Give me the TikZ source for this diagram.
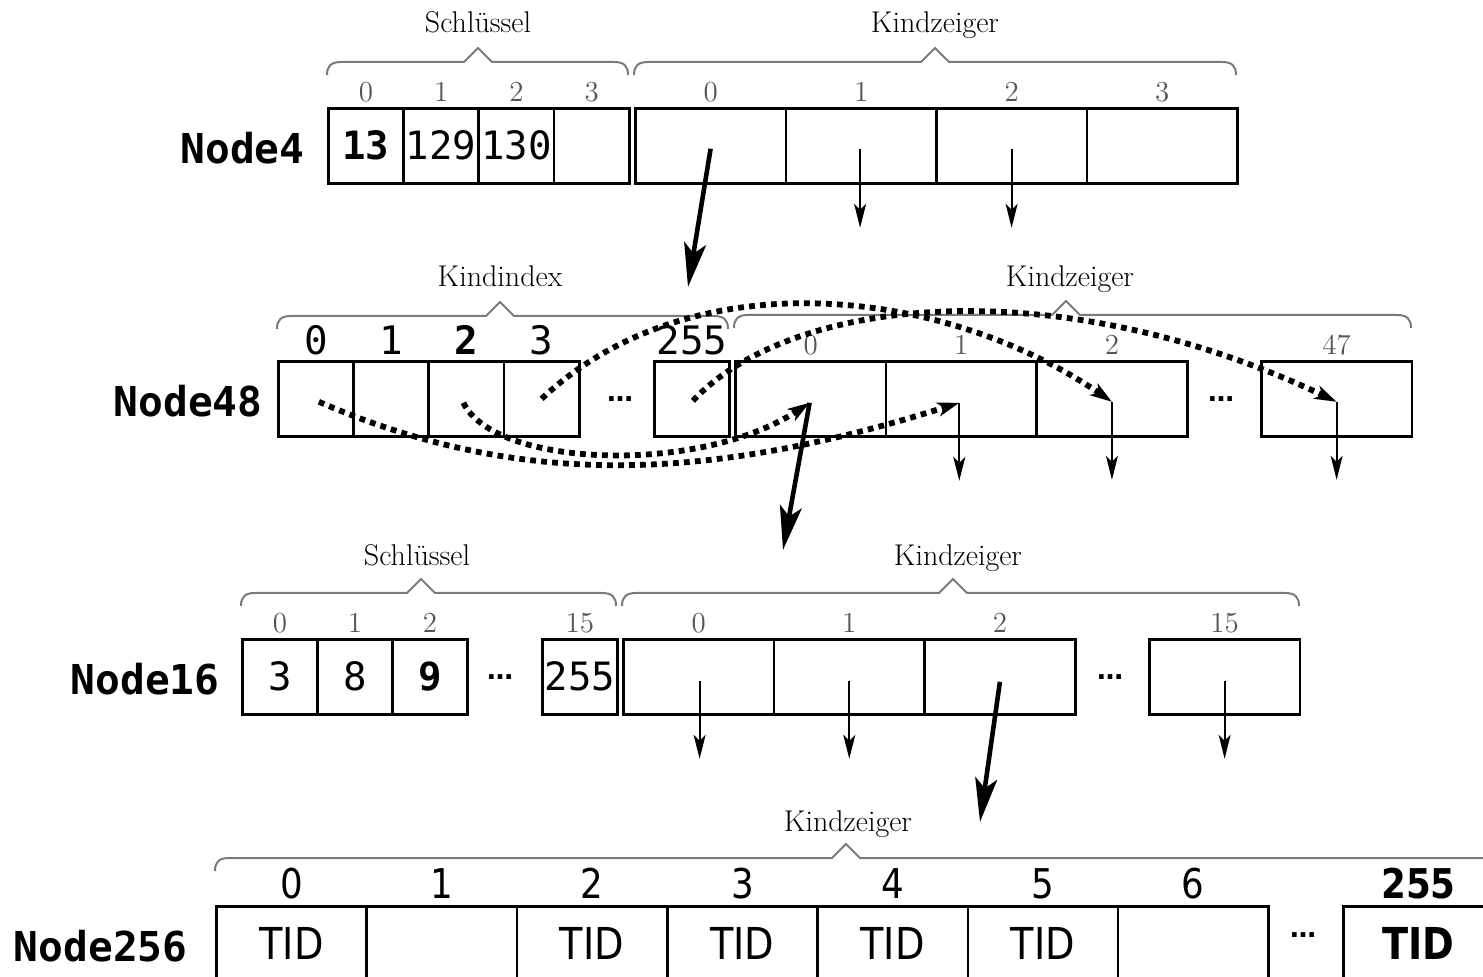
\documentclass[tikz,border=0pt]{standalone}
\usepackage{fontspec}
\newfontfamily\monof{DejaVu Sans Mono}
\newfontfamily\condf[FakeStretch=0.87]{DejaVu Sans}
\newfontfamily\dejaf{DejaVu Sans}
\usetikzlibrary{arrows.meta}
\definecolor{bracegray}{HTML}{7A7A7A}
\definecolor{idxgray}{HTML}{555555}
\newcommand\mybrace[4]{%
  \draw[gbrace] (#1,#4+13) .. controls (#1,#4+4) and (#1+4,#4) .. (#1+14,#4)
    -- (#3-14,#4) -- (#3,#4-14) -- (#3+14,#4) -- (#2-14,#4)
    .. controls (#2-4,#4) and (#2,#4+4) .. (#2,#4+13);}
\tikzset{
  cellk/.style={draw, line width=1.3pt, minimum width=37.6pt, minimum height=37.5pt,
    inner sep=0pt, anchor=north west, font=\monof\fontsize{19.5}{21}\selectfont},
  cellc/.style={cellk, minimum width=75.3pt},
  celltid/.style={cellk, minimum width=75.15pt, font=\condf\fontsize{22}{24}\selectfont},
  nlabel/.style={anchor=east, inner sep=0pt, font=\monof\bfseries\fontsize{20.6}{22}\selectfont},
  sidx/.style={anchor=base, inner sep=0pt, text=idxgray, font=\fontsize{14.5}{16}\selectfont},
  bidx/.style={anchor=base, inner sep=0pt, font=\monof\fontsize{19.6}{21}\selectfont},
  cidx/.style={anchor=base, inner sep=0pt, font=\condf\fontsize{20.5}{22}\selectfont},
  btitle/.style={anchor=base, inner sep=0pt, font=\fontsize{15}{17}\selectfont},
  gbrace/.style={draw=bracegray, line width=1pt, line join=miter},
  dotsn/.style={anchor=base, inner sep=0pt, font=\dejaf\bfseries\fontsize{13}{14}\selectfont},
  thinarrow/.style={line width=1pt, -{Stealth[length=12pt,width=6pt,inset=3pt]}},
  thickarrow/.style={line width=2.3pt, -{Stealth[length=22pt,width=11pt,inset=5pt]}},
  dotarrow/.style={line width=2.9pt, dash pattern=on 2.9pt off 2.6pt,
    -{Stealth[length=11pt,width=7pt,inset=3pt]}},
}
\begin{document}
\begin{tikzpicture}[x=0.5pt,y=-0.5pt]
\useasboundingbox (0,0) rectangle (1483,977);
\clip (0,0) rectangle (1483,977);

% ---------------- Node4 ----------------
\node[cellk] (n4k0) at (327,107) {\bfseries 13};
\node[cellk] (n4k1) at (402.25,107) {129};
\node[cellk] (n4k2) at (477.5,107) {130};
\node[cellk] (n4k3) at (552.75,107) {};
\foreach \i in {0,1,2,3}{
  \node[cellc] (n4c\i) at (634+\i*150.5,107) {};
  \node[sidx] at ([yshift=2.5pt]n4k\i.north) {\i};
  \node[sidx] at ([yshift=2.5pt]n4c\i.north) {\i};
}
\node[nlabel] (l4) at ([xshift=-11pt,yshift=-1pt]n4k0.west) {Node4};
\mybrace{327}{628}{478}{62}
\mybrace{634}{1236}{935}{62}
\node[btitle] (t4a) at (478,33) {Schlüssel};
\node[btitle] (t4b) at (935,33) {Kindzeiger};

% ---------------- Node48 ----------------
\node[cellk] (n48k0) at (277,360) {};
\node[cellk] (n48k1) at (352.25,360) {};
\node[cellk] (n48k2) at (427.5,360) {};
\node[cellk] (n48k3) at (502.75,360) {};
\node[cellk] (n48k255) at (653,360) {};
\node[bidx] at ([yshift=2.5pt]n48k0.north) {0};
\node[bidx] at ([yshift=2.5pt]n48k1.north) {1};
\node[bidx] at ([yshift=2.5pt]n48k2.north) {\bfseries 2};
\node[bidx] at ([yshift=2.5pt]n48k3.north) {3};
\node[bidx] at ([yshift=2.5pt]n48k255.north) {255};
\node[cellc] (n48c0) at (734,360) {};
\node[cellc] (n48c1) at (884.67,360) {};
\node[cellc] (n48c2) at (1035.33,360) {};
\node[cellc] (n48c47) at (1260,360) {};
\node[sidx] at ([yshift=2.5pt]n48c0.north) {0};
\node[sidx] at ([yshift=2.5pt]n48c1.north) {1};
\node[sidx] at ([yshift=2.5pt]n48c2.north) {2};
\node[sidx] at ([yshift=2.5pt]n48c47.north) {47};
\node[dotsn] (d48a) at (620,402) {…};
\node[dotsn] (d48b) at (1221,402) {…};
\node[nlabel] (l48) at ([xshift=-7pt,yshift=-1pt]n48k0.west) {Node48};
\mybrace{277}{728}{500}{316}
\mybrace{734}{1411}{1066}{315}
\node[btitle] (t48a) at (500,287) {Kindindex};
\node[btitle] (t48b) at (1070,287) {Kindzeiger};

% ---------------- Node16 ----------------
\node[cellk] (n16k0) at (241,638) {3};
\node[cellk] (n16k1) at (316,638) {8};
\node[cellk] (n16k2) at (391,638) {\bfseries 9};
\node[cellk] (n16k15) at (541,638) {255};
\node[sidx] at ([yshift=2.5pt]n16k0.north) {0};
\node[sidx] at ([yshift=2.5pt]n16k1.north) {1};
\node[sidx] at ([yshift=2.5pt]n16k2.north) {2};
\node[sidx] at ([yshift=2.5pt]n16k15.north) {15};
\node[cellc] (n16c0) at (622,638) {};
\node[cellc] (n16c1) at (772.67,638) {};
\node[cellc] (n16c2) at (923.33,638) {};
\node[cellc] (n16c15) at (1148,638) {};
\node[sidx] at ([yshift=2.5pt]n16c0.north) {0};
\node[sidx] at ([yshift=2.5pt]n16c1.north) {1};
\node[sidx] at ([yshift=2.5pt]n16c2.north) {2};
\node[sidx] at ([yshift=2.5pt]n16c15.north) {15};
\node[dotsn] (d16a) at (500,680) {…};
\node[dotsn] (d16b) at (1110,680) {…};
\node[nlabel] (l16) at ([xshift=-10.5pt,yshift=-1pt]n16k0.west) {Node16};
\mybrace{241}{616}{421}{593}
\mybrace{622}{1299}{953}{593}
\node[btitle] (t16a) at (417,566) {Schlüssel};
\node[btitle] (t16b) at (958,566) {Kindzeiger};

% ---------------- Node256 ----------------
\foreach \i/\t in {0/TID,1/,2/TID,3/TID,4/TID,5/TID,6/}{
  \node[celltid] (n256c\i) at (215+\i*150.3,905) {\t};
  \node[cidx] at ([yshift=3.5pt]n256c\i.north) {\i};
}
\node[celltid] (n256c255) at (1342,905) {\bfseries TID};
\node[cidx] at ([yshift=3.5pt]n256c255.north) {\bfseries 255};
\node[dotsn] (d256) at (1303,937) {…};
\node[nlabel] (l256) at ([xshift=-13.5pt,yshift=-1pt]n256c0.west) {Node256};
\mybrace{215}{1497}{846}{858}
\node[btitle] (t256) at (848,831) {Kindzeiger};

% ---------------- pointer origins and free ends ----------------
\coordinate (p4c0) at ([shift={(0,3)}]n4c0.center);
\coordinate (p4c1) at ([shift={(-1,3)}]n4c1.center);
\coordinate (p4c2) at ([shift={(0,3)}]n4c2.center);
\coordinate (e4c0) at (688,287);
\coordinate (e4c1) at ([yshift=-39.5pt]p4c1);
\coordinate (e4c2) at ([yshift=-39.5pt]p4c2);

\coordinate (p48k0) at ([shift={(3,3)}]n48k0.center);
\coordinate (p48k2) at ([shift={(-3,4)}]n48k2.center);
\coordinate (p48k3) at ([shift={(0,0)}]n48k3.center);
\coordinate (p48k255) at ([shift={(1,2)}]n48k255.center);
\coordinate (p48c0) at ([shift={(-1,4)}]n48c0.center);
\coordinate (p48c1) at ([shift={(-2,4)}]n48c1.center);
\coordinate (p48c2) at ([shift={(0,3)}]n48c2.center);
\coordinate (p48c47) at ([shift={(0,3)}]n48c47.center);
\coordinate (e48c0) at (783,550);
\coordinate (e48c1) at ([yshift=-39pt]p48c1);
\coordinate (e48c2) at ([yshift=-39pt]p48c2);
\coordinate (e48c47) at ([yshift=-39pt]p48c47);

\coordinate (p16c0) at ([shift={(1,4)}]n16c0.center);
\coordinate (p16c1) at ([shift={(0,4)}]n16c1.center);
\coordinate (p16c2) at ([shift={(0,5)}]n16c2.center);
\coordinate (p16c15) at ([shift={(0,4)}]n16c15.center);
\coordinate (e16c0) at ([yshift=-39pt]p16c0);
\coordinate (e16c1) at ([yshift=-39pt]p16c1);
\coordinate (e16c2) at (980,822);
\coordinate (e16c15) at ([yshift=-39pt]p16c15);

% ---------------- arrows ----------------
\draw[thickarrow] (p4c0) -- (e4c0);
\draw[thinarrow] (p4c1) -- (e4c1);
\draw[thinarrow] (p4c2) -- (e4c2);

\draw[dotarrow] (p48k0) .. controls (518,488) and (705,483) .. (p48c1);
\draw[dotarrow] (p48k2) .. controls (495,468) and (700,475) .. (p48c0);
\draw[dotarrow] (p48k3) .. controls (690,259) and (943,286) .. (p48c2);
\draw[dotarrow] (p48k255) .. controls (792,295) and (1059,270) .. (p48c47);

\draw[thickarrow] (p48c0) -- (e48c0);
\draw[thinarrow] (p48c1) -- (e48c1);
\draw[thinarrow] (p48c2) -- (e48c2);
\draw[thinarrow] (p48c47) -- (e48c47);

\draw[thinarrow] (p16c0) -- (e16c0);
\draw[thinarrow] (p16c1) -- (e16c1);
\draw[thickarrow] (p16c2) -- (e16c2);
\draw[thinarrow] (p16c15) -- (e16c15);
\end{tikzpicture}
\end{document}
